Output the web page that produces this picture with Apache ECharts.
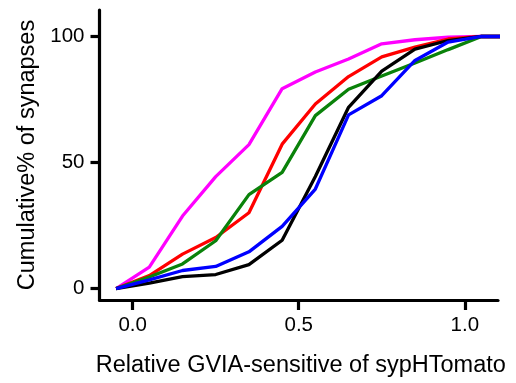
<!DOCTYPE html>
<html><head><meta charset="utf-8">
<script src="https://cdn.jsdelivr.net/npm/echarts@6/dist/echarts.min.js"></script>
<style>html,body{margin:0;padding:0;background:#fff}#c{width:516px;height:383px}</style>
</head><body><div id="c"></div>
<script>
var xBins = [-0.05, 0.05, 0.15, 0.25, 0.35, 0.45, 0.55, 0.65, 0.75, 0.85, 0.95, 1.05, 1.15];
var magenta = [0, 8.5, 28.8, 44.4, 57.1, 79.3, 85.9, 91.1, 97.1, 98.7, 99.7, 100, 100];
var red     = [0, 5.2, 13.7, 20.3, 30.1, 57.3, 73.2, 84.1, 91.9, 95.8, 99.0, 100, 100];
var green   = [0, 4.6, 9.8, 19.0, 37.3, 46.1, 68.6, 79.1, 84.3, 89.5, 94.8, 100, 100];
var black   = [0, 2.2, 4.8, 5.6, 9.5, 19.2, 44.5, 71.9, 86.3, 95.0, 98.4, 100, 100];
var blue    = [0, 3.5, 7.2, 8.8, 14.6, 24.7, 39.5, 68.9, 76.5, 90.5, 97.8, 100, 100];
var xTicks = [0, 0.5, 1.0];
var yTicks = [0, 50, 100];
var xTitle = 'Relative GVIA-sensitive of sypHTomato';
var yTitle = 'Cumulative% of synapses';

function pairs(arr){ return xBins.map(function(x,i){ return [x, arr[i]]; }); }
var seriesDefs = [
  ['magenta', magenta, '#ff00ff'],
  ['red', red, '#ff0000'],
  ['green', green, '#0a820a'],
  ['black', black, '#000000'],
  ['blue', blue, '#0000ff']
];
var font = 'Liberation Sans, Arial, sans-serif';
var chart = echarts.init(document.getElementById('c'), null, {renderer:'canvas'});
chart.setOption({
  animation:false,
  grid:{left:99.5, right:18, top:10, bottom:77, containLabel:false},
  xAxis:{
    type:'value', min:-0.1, max:1.1,
    name:xTitle, nameLocation:'middle', nameGap:54,
    nameTextStyle:{fontFamily:font, fontSize:23.5, color:'#000', padding:[0,0,0,4]},
    axisLine:{onZero:false, lineStyle:{color:'#000', width:3.2}},
    axisTick:{show:true, customValues:xTicks, length:10, lineStyle:{width:3.2, color:'#000'}},
    axisLabel:{customValues:xTicks, margin:15, fontFamily:font, fontSize:20.5, color:'#000',
      formatter:function(v){return v.toFixed(1);}},
    splitLine:{show:false}
  },
  yAxis:{
    type:'value', min:-4.5, max:110.5,
    name:yTitle, nameLocation:'middle', nameGap:57,
    nameTextStyle:{fontFamily:font, fontSize:23.5, color:'#000'},
    axisLine:{show:true, onZero:false, lineStyle:{color:'#000', width:3.2}},
    axisTick:{show:true, customValues:yTicks, length:9, lineStyle:{width:3.2, color:'#000'}},
    axisLabel:{customValues:yTicks, margin:15, fontFamily:font, fontSize:20.5, color:'#000'},
    splitLine:{show:false}
  },
  series: seriesDefs.map(function(s){
    return {name:s[0], type:'line', data:pairs(s[1]), showSymbol:false, symbol:'none',
      clip:true, lineStyle:{color:s[2], width:3.3}, itemStyle:{color:s[2]}};
  })
});
</script></body></html>
